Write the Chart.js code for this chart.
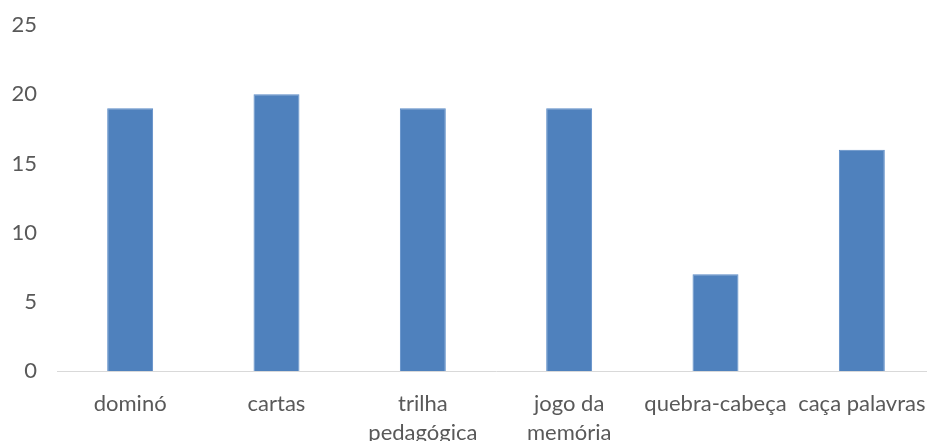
<!DOCTYPE html>
<html lang="pt">
<head>
    <meta charset="UTF-8">
    <title>Jogos</title>
    <script src="https://cdn.jsdelivr.net/npm/chart.js"></script>
    <style>
        html, body { margin: 0; padding: 0; background: #fff; overflow: hidden; }
        #wrap { width: 936px; height: 441px; }
    </style>
</head>
<body>
    <div id="wrap"><canvas id="jogosChart"></canvas></div>

    <script>
        // Jogos e quantidade de respostas
        const jogos = ['dominó', 'cartas', ['trilha', 'pedagógica'], ['jogo da', 'memória'], 'quebra-cabeça', 'caça palavras'];
        const quantidades = [19, 20, 19, 19, 7, 16];
        const yTicks = [0, 5, 10, 15, 20, 25];

        const fonte = { family: 'Lato, "Open Sans", sans-serif', size: 22 };

        const ctx = document.getElementById('jogosChart').getContext('2d');
        new Chart(ctx, {
            type: 'bar',
            data: {
                labels: jogos,
                datasets: [{
                    data: quantidades,
                    backgroundColor: '#4F81BD',
                    borderColor: '#5B8BC6',
                    borderWidth: 1,
                    barPercentage: 0.314,
                    categoryPercentage: 1
                }]
            },
            options: {
                responsive: true,
                maintainAspectRatio: false,
                animation: false,
                layout: { padding: { top: 0, right: 1, left: 0, bottom: 0 } },
                plugins: { legend: { display: false }, tooltip: { enabled: false } },
                scales: {
                    x: {
                        afterFit: axis => { axis.height = 70; },
                        grid: { display: false },
                        border: { display: true, color: '#D9D9D9', width: 1 },
                        ticks: {
                            color: '#595959',
                            font: { ...fonte, lineHeight: 1.32 },
                            padding: 10,
                            maxRotation: 0,
                            autoSkip: false
                        }
                    },
                    y: {
                        min: 0,
                        max: 25,
                        afterBuildTicks: axis => { axis.ticks = yTicks.map(v => ({ value: v })); },
                        afterFit: axis => { axis.width = 57; },
                        grid: { display: false },
                        border: { display: false },
                        ticks: {
                            color: '#595959',
                            font: fonte,
                            padding: 12
                        }
                    }
                }
            }
        });
    </script>
</body>
</html>
